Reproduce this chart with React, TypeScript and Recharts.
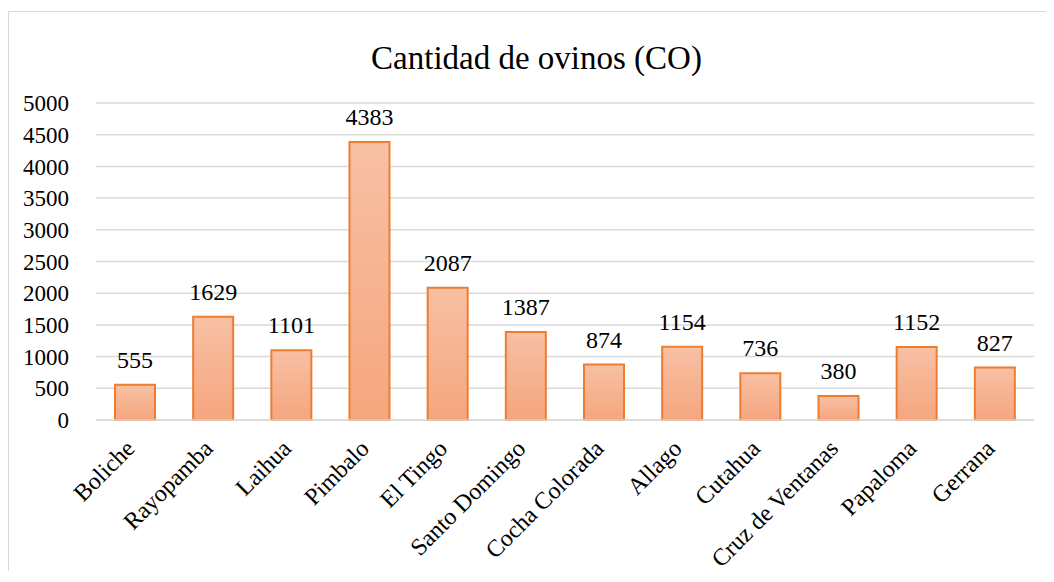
import React from 'react';
import { BarChart, Bar, XAxis, YAxis, CartesianGrid, LabelList } from 'recharts';

const communities = [
  'Boliche', 'Rayopamba', 'Laihua', 'Pimbalo', 'El Tingo', 'Santo Domingo',
  'Cocha Colorada', 'Allago', 'Cutahua', 'Cruz de Ventanas', 'Papaloma', 'Gerrana',
];
const sheep = [555, 1629, 1101, 4383, 2087, 1387, 874, 1154, 736, 380, 1152, 827];
const yTicks = [0, 500, 1000, 1500, 2000, 2500, 3000, 3500, 4000, 4500, 5000];

const data = communities.map((name, i) => ({ name, ovinos: sheep[i] }));

const FONT = '"Liberation Serif", "Times New Roman", serif';

// category labels slanted at 45°
const AngledTick = (props: any) => {
  const { x, y, payload } = props;
  return (
    <g transform={`translate(${x + 1},${y + 22})`}>
      <text
        x={0}
        y={0}
        textAnchor="end"
        transform="rotate(-45)"
        fontFamily={FONT}
        fontSize={24}
        fill="#000"
      >
        {payload.value}
      </text>
    </g>
  );
};

export default function App() {
  return (
    <div
      style={{
        position: 'relative',
        top: 3,
        width: 1037,
        height: 562,
        borderTop: '1px solid #d9d9d9',
        borderLeft: '1px solid #d9d9d9',
        fontFamily: FONT,
      }}
    >
      <svg width={0} height={0} style={{ position: 'absolute' }}>
        <defs>
          <linearGradient id="barFill" x1="0" y1="0" x2="0" y2="1">
            <stop offset="0%" stopColor="#F8C0A4" />
            <stop offset="100%" stopColor="#F5A67E" />
          </linearGradient>
        </defs>
      </svg>
      <div
        style={{
          position: 'absolute',
          top: 30,
          left: 18,
          width: 1019,
          textAlign: 'center',
          fontSize: 33,
          lineHeight: '33px',
          color: '#000',
        }}
      >
        Cantidad de ovinos (CO)
      </div>
      <BarChart
        width={1037}
        height={562}
        data={data}
        margin={{ top: 91, right: 12, left: 0, bottom: 0 }}
      >
        <CartesianGrid vertical={false} stroke="#d9d9d9" strokeWidth={1.5} />
        <XAxis
          dataKey="name"
          interval={0}
          height={154}
          axisLine={{ stroke: '#d9d9d9', strokeWidth: 1.5 }}
          tickLine={false}
          tick={<AngledTick />}
        />
        <YAxis
          domain={[0, 5000]}
          ticks={yTicks}
          width={87}
          axisLine={false}
          tickLine={false}
          tickMargin={21}
          tick={{ fontFamily: FONT, fontSize: 23, fill: '#000' }}
        />
        <Bar
          dataKey="ovinos"
          barSize={40}
          fill="url(#barFill)"
          stroke="#ED7D31"
          strokeWidth={2}
          isAnimationActive={false}
        >
          <LabelList
            dataKey="ovinos"
            position="top"
            offset={17}
            fontFamily={FONT}
            fontSize={24}
            fill="#000"
          />
        </Bar>
      </BarChart>
    </div>
  );
}
